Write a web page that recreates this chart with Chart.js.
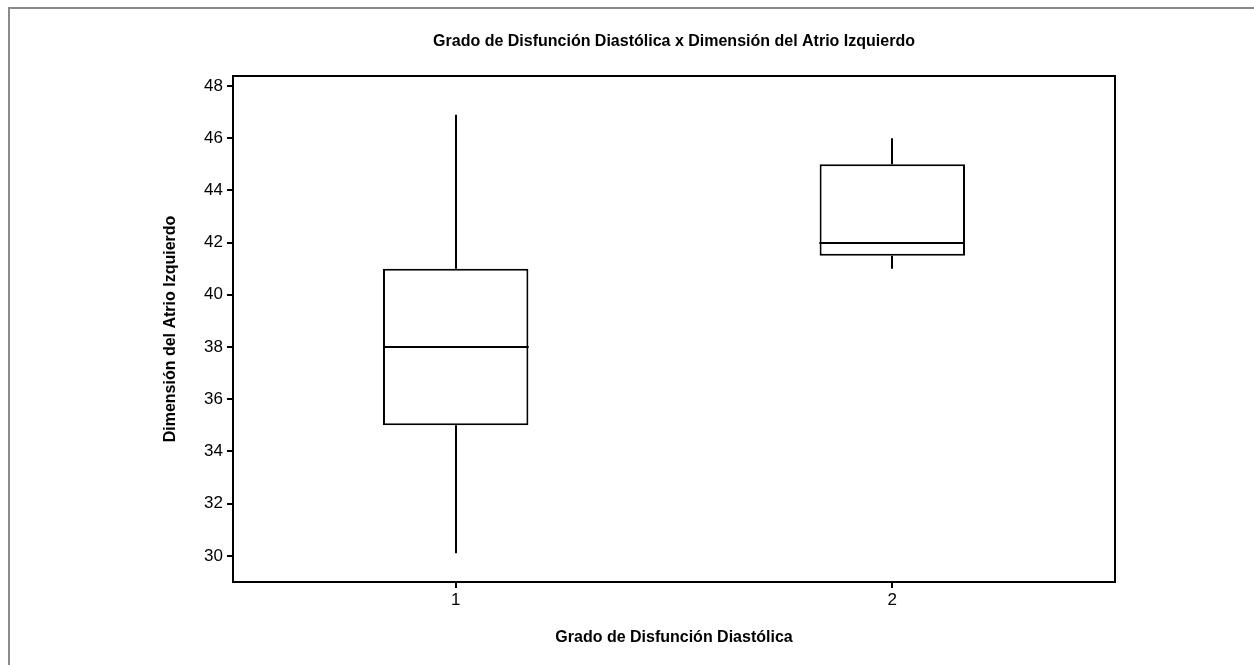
<!DOCTYPE html>
<html>
<head>
<meta charset="utf-8">
<script src="https://cdn.jsdelivr.net/npm/chart.js@4.4.0/dist/chart.umd.min.js"></script>
<style>
  html, body { margin: 0; padding: 0; background: #fff; }
  #wrap { position: relative; width: 1254px; height: 665px; }
  #frame { position: absolute; left: 8px; top: 7px; right: 0; bottom: 0;
           border-top: 2px solid #8a8a8a; border-left: 2px solid #8a8a8a; pointer-events: none; }
  canvas { position: absolute; left: 0; top: 0; }
</style>
</head>
<body>
<div id="wrap">
  <canvas id="chart" width="1254" height="665"></canvas>
  <div id="frame"></div>
</div>
<script>
// --- DATA ---
const groups = [1, 2];
const whiskerLow = [30.1, 41.0];
const q1 = [35.0, 41.5];
const median = [38.0, 42.0];
const q3 = [41.0, 45.0];
const whiskerHigh = [46.9, 46.0];
const yTicks = [30, 32, 34, 36, 38, 40, 42, 44, 46, 48];

const TITLE = 'Grado de Disfunción Diastólica x Dimensión del Atrio Izquierdo';
const FONT = "'Liberation Sans', Arial, sans-serif";

// Whiskers, median lines, top/right frame of the plot and the main title
const boxExtras = {
    id: 'boxExtras',
    afterDatasetsDraw(chart) {
        const ctx = chart.ctx;
        const y = chart.scales.y;
        const meta = chart.getDatasetMeta(0);
        ctx.save();
        ctx.strokeStyle = '#000';
        ctx.lineWidth = 2;
        meta.data.forEach((bar, i) => {
            const cx = Math.round(bar.x);
            const half = bar.width / 2;
            ctx.beginPath();
            // lower whisker
            ctx.moveTo(cx, y.getPixelForValue(q1[i]));
            ctx.lineTo(cx, y.getPixelForValue(whiskerLow[i]));
            // upper whisker
            ctx.moveTo(cx, y.getPixelForValue(q3[i]));
            ctx.lineTo(cx, y.getPixelForValue(whiskerHigh[i]));
            // median
            const my = Math.round(y.getPixelForValue(median[i]));
            ctx.moveTo(cx - half, my);
            ctx.lineTo(cx + half, my);
            ctx.stroke();
        });
        const a = chart.chartArea;
        ctx.beginPath();
        ctx.moveTo(a.left, a.top);
        ctx.lineTo(a.right, a.top);
        ctx.lineTo(a.right, a.bottom);
        ctx.stroke();

        // title centred over the plot area
        ctx.fillStyle = '#000';
        ctx.font = 'bold 16px ' + FONT;
        ctx.textAlign = 'center';
        ctx.textBaseline = 'middle';
        ctx.fillText(TITLE, (a.left + a.right) / 2, 42);
        ctx.restore();
    }
};

new Chart(document.getElementById('chart').getContext('2d'), {
    type: 'bar',
    data: {
        datasets: [{
            data: groups.map((g, i) => ({ x: g, y: [q1[i], q3[i]] })),
            backgroundColor: '#fff',
            borderColor: '#000',
            borderWidth: 2,
            borderSkipped: false,
            categoryPercentage: 1,
            barPercentage: 0.333
        }]
    },
    options: {
        responsive: false,
        animation: false,
        layout: { padding: { left: 0, top: 76, right: 139, bottom: 0 } },
        plugins: {
            legend: { display: false },
            tooltip: { enabled: false },
            title: { display: false }
        },
        scales: {
            x: {
                type: 'linear',
                min: 0.49,
                max: 2.51,
                offset: false,
                afterBuildTicks(scale) { scale.ticks = groups.map(v => ({ value: v })); },
                grid: { display: true, drawOnChartArea: false, offset: false, color: '#000', lineWidth: 2, tickLength: 6 },
                border: { display: true, color: '#000', width: 2 },
                ticks: { color: '#000', font: { family: FONT, size: 17 }, padding: 2 },
                title: {
                    display: true,
                    text: 'Grado de Disfunción Diastólica',
                    color: '#000',
                    font: { family: FONT, size: 16, weight: 'bold' },
                    padding: { top: 0, bottom: 18 }
                },
                afterFit(scale) { scale.height = 83; }
            },
            y: {
                min: 29.0,
                max: 48.38,
                grid: { display: true, drawOnChartArea: false, color: '#000', lineWidth: 2, tickLength: 6 },
                border: { display: true, color: '#000', width: 2 },
                afterBuildTicks(scale) { scale.ticks = yTicks.map(v => ({ value: v })); },
                ticks: { color: '#000', font: { family: FONT, size: 17 }, padding: 4 },
                title: {
                    display: true,
                    text: 'Dimensión del Atrio Izquierdo',
                    color: '#000',
                    font: { family: FONT, size: 16, weight: 'bold' },
                    padding: { top: 161, bottom: 0 }
                },
                afterFit(scale) { scale.width = 233; }
            }
        }
    },
    plugins: [boxExtras]
});
</script>
</body>
</html>
